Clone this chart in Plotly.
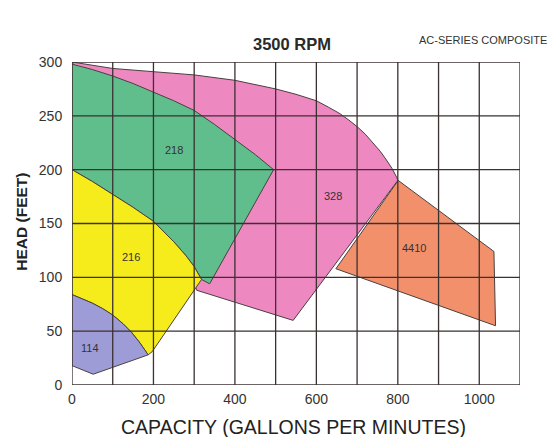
import plotly.graph_objects as go

# ---------------- data ----------------
x_grid = [0, 100, 200, 300, 400, 500, 600, 700, 800, 900, 1000, 1100]
y_grid = [0, 50, 100, 150, 200, 250, 300]
x_tick_vals = [0, 200, 400, 600, 800, 1000]
y_tick_vals = [0, 50, 100, 150, 200, 250, 300]

# pump 328 (pink)
p328_x = [0, 100, 200, 300, 400, 450, 500, 550, 600, 630, 658, 680, 700, 720, 740, 757, 772, 786, 797, 800,
          543, 306, 250, 0]
p328_y = [300, 294, 291, 288, 283, 279, 275, 270, 264, 258, 252, 246, 240, 233, 224, 217, 209, 201, 193, 190,
          60, 88, 150, 300]
# pump 4410 (orange)
p4410_x = [648, 801, 1036, 1040, 648]
p4410_y = [108, 190, 124, 55, 108]
# pump 218 (green)
p218_x = [0, 50, 100, 150, 200, 250, 300, 350, 400, 450, 495, 338, 318, 300, 280, 250, 200, 150, 100, 50, 0, 0]
p218_y = [298, 293, 287, 280, 272, 264, 255, 242, 228, 214, 200, 94, 98, 110, 120, 133, 152, 165, 177, 189, 200, 298]
# pump 216 (yellow)
p216_x = [0, 50, 100, 150, 200, 250, 280, 300, 318, 197, 187, 167, 146, 125, 100, 75, 50, 25, 0, 0]
p216_y = [200, 189, 177, 165, 152, 133, 120, 110, 98, 31, 28, 39, 49, 57, 65, 71, 76, 80, 84, 200]
# pump 114 (purple)
p114_x = [0, 25, 50, 75, 100, 125, 146, 167, 187, 52, 0, 0]
p114_y = [84, 80, 76, 71, 65, 57, 49, 39, 28, 10, 18, 84]

label_names = ["114", "216", "218", "328", "4410"]
label_x = [44, 146, 250, 641, 840]
label_y = [34, 119, 218, 176, 127]

# ---------------- styling ----------------
FONT = "Liberation Sans, Arial, sans-serif"
GRID = "#3b3131"
EDGE = "#4a4040"

fig = go.Figure()
polys = [
    (p4410_x, p4410_y, "#f3906c"),
    (p328_x, p328_y, "#ee88c1"),
    (p218_x, p218_y, "#5fbe8c"),
    (p216_x, p216_y, "#f6ec1c"),
    (p114_x, p114_y, "#9e9cd6"),
]
for xs, ys, col in polys:
    fig.add_trace(go.Scatter(x=xs, y=ys, mode="lines", fill="toself",
                             fillcolor=col, line=dict(color=EDGE, width=1),
                             hoverinfo="skip", showlegend=False))

shapes = []
for xv in x_grid:
    shapes.append(dict(type="line", xref="x", yref="y", x0=xv, x1=xv,
                       y0=y_grid[0], y1=y_grid[-1], layer="above",
                       line=dict(color=GRID, width=1.3)))
for yv in y_grid:
    shapes.append(dict(type="line", xref="x", yref="y", x0=x_grid[0], x1=x_grid[-1],
                       y0=yv, y1=yv, layer="above",
                       line=dict(color=GRID, width=1.3)))

annotations = []
for n, lx, ly in zip(label_names, label_x, label_y):
    annotations.append(dict(x=lx, y=ly, xref="x", yref="y", text=n, showarrow=False,
                            font=dict(family=FONT, size=11, color="#333333")))

annotations += [
    dict(x=0.491, y=1.056, xref="paper", yref="paper", text="<b>3500 RPM</b>",
         showarrow=False, xanchor="center", yanchor="middle",
         font=dict(family=FONT, size=16.5, color="#2a2a2a")),
    dict(x=1.065, y=1.068, xref="paper", yref="paper", text="AC-SERIES COMPOSITE",
         xanchor="right", yanchor="middle", showarrow=False,
         font=dict(family=FONT, size=11, color="#333333")),
    dict(x=0.494, y=-0.13, xref="paper", yref="paper", text="CAPACITY (GALLONS PER MINUTES)",
         showarrow=False, xanchor="center", yanchor="middle",
         font=dict(family=FONT, size=19.5, color="#222222")),
    dict(x=-0.112, y=0.505, xref="paper", yref="paper", text="<b>HEAD (FEET)</b>", textangle=-90,
         showarrow=False, xanchor="center", yanchor="middle",
         font=dict(family=FONT, size=15.5, color="#222222")),
]

fig.update_layout(
    width=551, height=437,
    margin=dict(l=72, r=31, t=62, b=52),
    paper_bgcolor="white", plot_bgcolor="white",
    shapes=shapes, annotations=annotations, showlegend=False,
    xaxis=dict(range=[x_grid[0], x_grid[-1]], tickvals=x_tick_vals, showgrid=False,
               zeroline=False, showline=False, ticks="outside", ticklen=1, tickcolor="rgba(0,0,0,0)",
               tickfont=dict(family=FONT, size=14, color="#333333"), fixedrange=True),
    yaxis=dict(range=[y_grid[0], y_grid[-1]], tickvals=y_tick_vals, showgrid=False,
               zeroline=False, showline=False, ticks="outside", ticklen=6, tickcolor="rgba(0,0,0,0)",
               tickfont=dict(family=FONT, size=14, color="#333333"), fixedrange=True),
)

fig.write_html("out.html", config={"displayModeBar": False},
               post_script="document.body.style.margin='0px';document.body.style.overflow='hidden';")
